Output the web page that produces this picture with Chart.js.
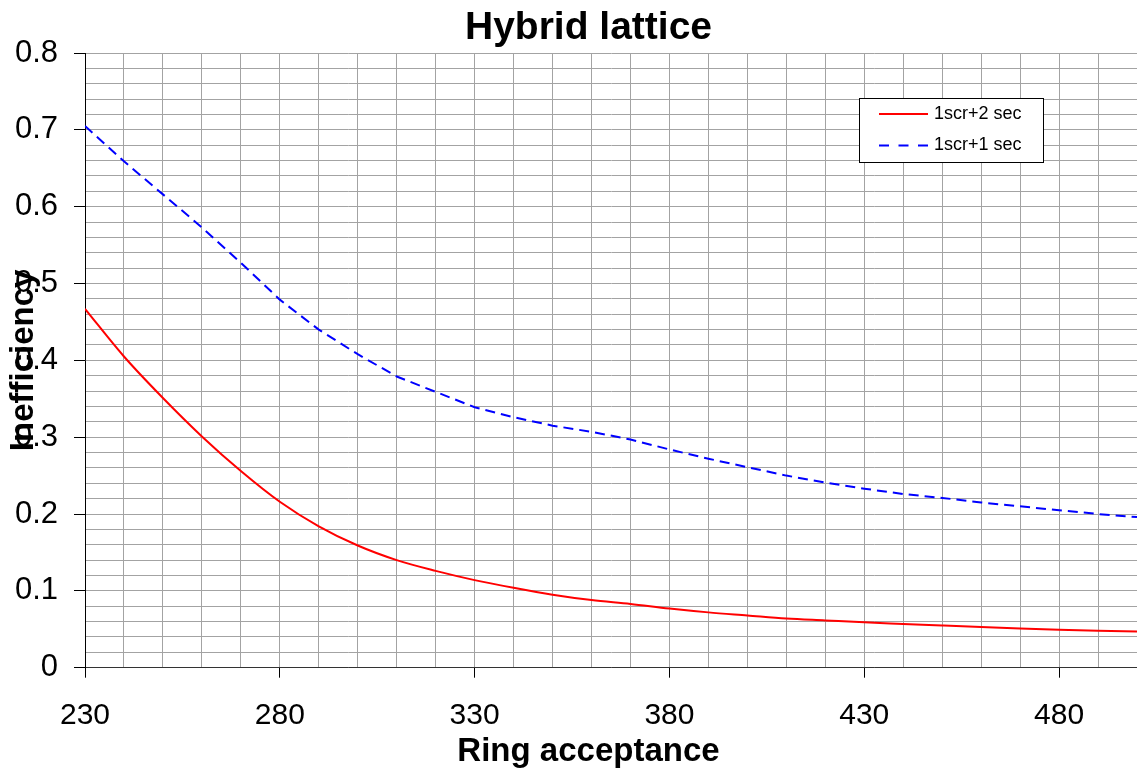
<!DOCTYPE html>
<html>
<head>
<meta charset="utf-8">
<title>Hybrid lattice</title>
<script src="https://cdn.jsdelivr.net/npm/chart.js@4.4.0/dist/chart.umd.min.js"></script>
<style>
  body { margin: 0; background: #fff; }
  canvas { display: block; }
</style>
</head>
<body>
<canvas id="graph" width="1137" height="770"></canvas>
<script>
// ring acceptance values (x)
var acceptance = [230, 240, 250, 260, 270, 280, 290, 300, 310, 320, 330, 340, 350, 360,
                  370, 380, 390, 400, 410, 420, 430, 440, 450, 460, 470, 480, 490, 500];
// inefficiency
var twoSec = [0.467, 0.405, 0.351, 0.301, 0.256, 0.216, 0.184, 0.159, 0.140, 0.126, 0.114, 0.104, 0.095, 0.088,
              0.083, 0.077, 0.072, 0.068, 0.064, 0.0615, 0.059, 0.057, 0.055, 0.053, 0.051, 0.0494, 0.048, 0.047];
var oneSec = [0.705, 0.659, 0.616, 0.573, 0.527, 0.479, 0.440, 0.408, 0.379, 0.359, 0.339, 0.326, 0.315, 0.307,
              0.297, 0.284, 0.272, 0.261, 0.250, 0.241, 0.233, 0.226, 0.221, 0.215, 0.210, 0.205, 0.200, 0.196];
var seriesNames = ["1scr+2 sec", "1scr+1 sec"];
var xLabels = [230, 280, 330, 380, 430, 480];
var yLabels = [0, 0.1, 0.2, 0.3, 0.4, 0.5, 0.6, 0.7, 0.8];

var font = "'Liberation Sans', Arial, sans-serif";

function points(ys) {
    var out = [];
    for (var i = 0; i < acceptance.length; i++) {
        out.push({x: acceptance[i], y: ys[i]});
    }
    return out;
}

function xHasLabel(v) {
    return xLabels.indexOf(Math.round(v)) >= 0;
}
function yHasLabel(v) {
    var k = Math.round(v * 100);
    return yLabels.some(function (l) { return Math.round(l * 100) === k; });
}

// legend with a frame, drawn inside the plot area like the original
var boxLegend = {
    id: "boxLegend",
    afterDraw: function (chart) {
        var c = chart.ctx;
        var x = 859.5, y = 98.5, w = 184, h = 64;
        c.save();
        c.fillStyle = "#fff";
        c.fillRect(x, y, w, h);
        c.strokeStyle = "#000";
        c.lineWidth = 1;
        c.strokeRect(x, y, w, h);
        c.font = "18px " + font;
        c.textBaseline = "middle";
        chart.data.datasets.forEach(function (ds, i) {
            var ly = 114 + i * 31.5;
            c.beginPath();
            c.strokeStyle = ds.borderColor;
            c.lineWidth = 2;
            c.setLineDash(ds.borderDash ? [10, 9.5] : []); // three dashes in the sample
            c.moveTo(879, ly);
            c.lineTo(928, ly);
            c.stroke();
            c.setLineDash([]);
            c.fillStyle = "#000";
            c.fillText(ds.label, 934, ly);
        });
        c.restore();
    }
};

var ctx = document.getElementById("graph").getContext("2d");

var graph = new Chart(ctx, {
    type: "line",
    data: {
        datasets: [{
            label: seriesNames[0],
            data: points(twoSec),
            borderColor: "#ff0000",
            borderWidth: 2,
            pointRadius: 0,
            cubicInterpolationMode: "monotone"
        }, {
            label: seriesNames[1],
            data: points(oneSec),
            borderColor: "#0000ff",
            borderWidth: 2,
            borderDash: [10, 6],
            pointRadius: 0,
            tension: 0
        }]
    },
    options: {
        responsive: false,
        animation: false,
        layout: { padding: { left: 40, right: 0, top: 0, bottom: 0 } },
        plugins: {
            legend: { display: false },
            tooltip: { enabled: false },
            title: {
                display: true,
                text: "Hybrid lattice",
                color: "#000",
                font: { family: font, size: 39, weight: "bold" },
                padding: { top: 5, bottom: 1.2 }
            },
            subtitle: {
                display: true,
                position: "bottom",
                text: "Ring acceptance",
                color: "#000",
                font: { family: font, size: 33, weight: "bold", lineHeight: 1.1 },
                padding: { top: 4, bottom: 0 }
            }
        },
        scales: {
            x: {
                type: "linear",
                min: 230,
                max: 500,
                afterFit: function (scale) {
                    scale.height = 62;
                    scale.paddingRight = 0; // plot runs to the right edge
                },
                ticks: {
                    stepSize: 10,
                    autoSkip: false,
                    maxRotation: 0,
                    padding: 20,
                    color: "#000",
                    font: { family: font, size: 30 },
                    callback: function (v) { return xHasLabel(v) ? String(Math.round(v)) : ""; }
                },
                grid: {
                    color: "#a3a3a3",
                    lineWidth: 1,
                    tickLength: 10,
                    tickColor: function (c) { return c.tick && xHasLabel(c.tick.value) ? "#000" : "rgba(0,0,0,0)"; }
                },
                border: { color: "#333", width: 1 }
            },
            y: {
                min: 0,
                max: 0.8,
                afterFit: function (scale) {
                    scale.width = 45;
                    // labels stick out past the narrow axis box, don't clip them
                    scale._computeLabelArea = function () { return null; };
                },
                title: {
                    display: true,
                    text: "Inefficiency",
                    color: "#000",
                    font: { family: font, size: 33, weight: "bold" },
                    padding: { top: -35.8, bottom: 0 }
                },
                ticks: {
                    stepSize: 0.02,
                    maxTicksLimit: 100,
                    autoSkip: false,
                    padding: 16,
                    color: "#000",
                    font: { family: font, size: 31 },
                    callback: function (v) { return yHasLabel(v) ? String(Math.round(v * 10) / 10) : ""; }
                },
                grid: {
                    color: "#a3a3a3",
                    lineWidth: 1,
                    tickLength: 11,
                    tickColor: function (c) { return c.tick && yHasLabel(c.tick.value) ? "#000" : "rgba(0,0,0,0)"; }
                },
                border: { color: "#000", width: 1 }
            }
        }
    },
    plugins: [boxLegend]
});
</script>
</body>
</html>
